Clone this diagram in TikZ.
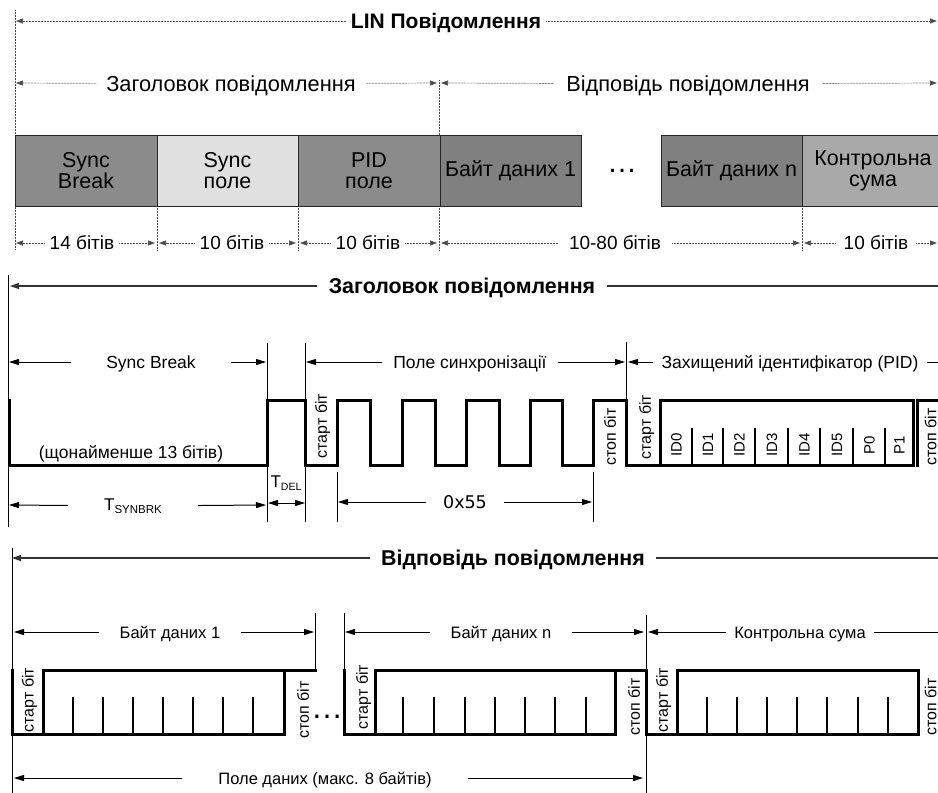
\documentclass[tikz,border=0pt]{standalone}
\usepackage{fontspec}
\setmainfont{Liberation Sans}
\newfontfamily\dvsans{DejaVu Sans}
\usetikzlibrary{arrows.meta}
\definecolor{gA}{HTML}{8B8B8B}
\definecolor{gB}{HTML}{E0E0E0}
\definecolor{gC}{HTML}{808080}
\definecolor{gD}{HTML}{A9A9A9}
\begin{document}
\begin{tikzpicture}[x=1pt,y=-1pt,
  guide/.style={draw=black!70, line width=0.7pt, dash pattern=on 0.7pt off 0.8pt},
  dotarr/.style={guide, -{Triangle[length=7pt,width=5pt]}},
  dimarr/.style={draw=black, line width=1pt, -{Triangle[length=10pt,width=6pt]}},
  dimboth/.style={draw=black, line width=1pt, {Triangle[length=10pt,width=6pt]}-{Triangle[length=10pt,width=6pt]}},
  dimline/.style={draw=black, line width=1pt},
  titleline/.style={draw=black!80, line width=1.3pt},
  titlearr/.style={titleline, -{Triangle[length=9pt,width=6pt]}},
  thinv/.style={draw=black, line width=1pt},
  wave/.style={draw=black, line width=3pt, line join=miter, line cap=rect},
  bittick/.style={draw=black, line width=2.6pt},
  fbox/.style={draw=black!85, line width=1pt, minimum height=71pt, inner sep=0pt, align=center, font=\fontsize{21.5}{21}\selectfont},
  t20/.style={inner ysep=0pt, text height=15.5pt, text depth=0pt, font=\fontsize{21.8}{25}\selectfont},
  t18/.style={inner ysep=0pt, text height=13.5pt, text depth=0pt, font=\fontsize{19}{22}\selectfont},
  blin/.style={inner ysep=0pt, text height=15pt, text depth=0pt, font=\bfseries\fontsize{21}{24}\selectfont},
  b19/.style={inner ysep=0pt, text height=15.3pt, text depth=0pt, font=\bfseries\fontsize{21.4}{24}\selectfont},
  t175/.style={inner ysep=0pt, text height=12.5pt, text depth=0pt, font=\fontsize{17.5}{21}\selectfont},
  t165/.style={inner ysep=0pt, text height=12pt, text depth=0pt, font=\fontsize{16.5}{20}\selectfont},
  rot/.style={rotate=90, inner sep=0pt, text height=11.5pt, text depth=0pt, font=\fontsize{16}{18}\selectfont},
  rotid/.style={rotate=90, inner sep=0pt, text height=11pt, text depth=0pt, font=\fontsize{15}{18}\selectfont},
]
\useasboundingbox (0,0) rectangle (938,793);

% ================= TOP SECTION =================
\draw[guide] (15,10) -- (15,250);
\draw[guide] (439,80) -- (439,250);
\draw[guide] (157,206) -- (157,250);
\draw[guide] (298,206) -- (298,250);
\draw[guide] (802,206) -- (802,250);

\coordinate (linL) at (16,21); \coordinate (linR) at (937,21);
\node[blin, inner xsep=5pt] (lin) at (446,21) {LIN Повідомлення};
\draw[dotarr] (lin) -- (linL);
\draw[dotarr] (lin) -- (linR);

\coordinate (h1L) at (16,83); \coordinate (h1R) at (437,83);
\coordinate (r1L) at (441,83); \coordinate (r1R) at (937,83);
\node[t20, inner xsep=10pt] (hdr1) at (231,84) {Заголовок повідомлення};
\node[t20, inner xsep=13pt] (rsp1) at (688,84) {Відповідь повідомлення};
\draw[dotarr] (hdr1) -- (h1L);
\draw[dotarr] (hdr1) -- (h1R);
\draw[dotarr] (rsp1) -- (r1L);
\draw[dotarr] (rsp1) -- (r1R);

\node[fbox, fill=gA, minimum width=142pt] (sb) at (86,170.5) {Sync\\Break};
\node[fbox, fill=gB, minimum width=141pt] (sp) at (227.5,170.5) {Sync\\поле};
\node[fbox, fill=gA, minimum width=142pt] (pf) at (369,170.5) {PID\\поле};
\node[fbox, fill=gC, minimum width=141pt] (d1) at (510.5,170.5) {Байт даних 1};
\node[inner sep=0pt, anchor=base, font=\fontsize{30}{30}\selectfont] (dots1) at (622,172) {…};
\node[fbox, fill=gC, minimum width=141pt] (dn) at (731.5,170.5) {Байт даних n};
\node[fbox, fill=gD, minimum width=142pt] (cs) at (873,170.5) {Контрольна\\сума};

\coordinate (a1) at (16,243);  \coordinate (a2) at (155,243);
\coordinate (a3) at (159,243); \coordinate (a4) at (296,243);
\coordinate (a5) at (300,243); \coordinate (a6) at (437,243);
\coordinate (a7) at (441,243); \coordinate (a8) at (800,243);
\coordinate (a9) at (804,243); \coordinate (a10) at (937,243);
\node[t18, inner xsep=5pt] (b14) at (82,243) {14 бітів};
\node[t18, inner xsep=5pt] (b10a) at (232,243) {10 бітів};
\node[t18, inner xsep=5pt] (b10b) at (368,243) {10 бітів};
\node[t18, inner xsep=11pt] (b1080) at (615,243) {10-80 бітів};
\node[t18, inner xsep=8pt] (b10c) at (876,243) {10 бітів};
\draw[dotarr] (b14) -- (a1);   \draw[dotarr] (b14) -- (a2);
\draw[dotarr] (b10a) -- (a3);  \draw[dotarr] (b10a) -- (a4);
\draw[dotarr] (b10b) -- (a5);  \draw[dotarr] (b10b) -- (a6);
\draw[dotarr] (b1080) -- (a7); \draw[dotarr] (b1080) -- (a8);
\draw[dotarr] (b10c) -- (a9);  \draw[dotarr] (b10c) -- (a10);

% ================= MIDDLE SECTION =================
\draw[thinv] (8,275) -- (8,527);
\draw[thinv] (267,343) -- (267,522);
\draw[thinv] (305,343) -- (305,522);
\draw[thinv] (626,342) -- (626,400);
\draw[thinv] (337,472) -- (337,522);
\draw[thinv] (593,472) -- (593,522);

\coordinate (m1L) at (10,286); \coordinate (m1R) at (938,286);
\node[b19, inner xsep=12pt] (hdr2) at (462,286) {Заголовок повідомлення};
\draw[titlearr] (hdr2) -- (m1L);
\draw[titleline] (hdr2) -- (m1R);

\coordinate (sbL) at (9,362);   \coordinate (sbR) at (266,362);
\coordinate (psL) at (306,362); \coordinate (psR) at (625,362);
\coordinate (piL) at (628,362); \coordinate (piR) at (938,362);
\node[t175, inner xsep=35pt] (sbk) at (151,362) {Sync Break};
\node[t175, inner xsep=11pt] (psync) at (470,362) {Поле синхронізації};
\node[t175, inner xsep=8pt] (pidl) at (790,362) {Захищений ідентифікатор (PID)};
\draw[dimarr] (sbk) -- (sbL);   \draw[dimarr] (sbk) -- (sbR);
\draw[dimarr] (psync) -- (psL); \draw[dimarr] (psync) -- (psR);
\draw[dimarr] (pidl) -- (piL);  \draw[dimline] (pidl) -- (piR);

\draw[wave] (9,400) -- (9,465) -- (267,465) -- (267,400) -- (305,400) -- (305,465)
  -- (337,465) -- (337,400) -- (370,400) -- (370,465) -- (402,465) -- (402,400)
  -- (435,400) -- (435,465) -- (466,465) -- (466,400) -- (499,400) -- (499,465)
  -- (530,465) -- (530,400) -- (562,400) -- (562,465) -- (593,465) -- (593,400)
  -- (626,400) -- (626,465) -- (660,465) -- (660,400) -- (913,400) -- (913,465) -- (660,465);
\draw[wave] (917,465) -- (917,400) -- (945,400);
\foreach \x in {692,723,755,788,820,853,885} \draw[bittick] (\x,428) -- (\x,465);

\node[t175, inner xsep=0pt] (least) at (131,452) {(щонайменше 13 бітів)};
\node[rot] (st1) at (321,426) {старт біт};
\node[rot] (sp1) at (610,437) {стоп біт};
\node[rot] (st2) at (645,427) {старт біт};
\node[rot] (sp2) at (930.5,437) {стоп біт};
\node[rotid] (id0) at (676,445) {ID0};
\node[rotid] (id1) at (707.5,445) {ID1};
\node[rotid] (id2) at (739,445) {ID2};
\node[rotid] (id3) at (771.5,445) {ID3};
\node[rotid] (id4) at (804,445) {ID4};
\node[rotid] (id5) at (836.5,445) {ID5};
\node[rotid] (p0) at (869,445) {P0};
\node[rotid] (p1) at (899,445) {P1};

\coordinate (tsL) at (9,505); \coordinate (tsR) at (266,505);
\node[inner ysep=0pt, text height=12pt, text depth=3pt, inner xsep=36pt, font=\fontsize{17}{20}\selectfont] (tsyn) at (133,506) {T\raisebox{-3pt}{\fontsize{11.5}{12}\selectfont SYNBRK}};
\draw[dimarr] (tsyn) -- (tsL); \draw[dimarr] (tsyn) -- (tsR);
\node[inner sep=0pt, font=\fontsize{17}{20}\selectfont] (tdel) at (286,483) {T\raisebox{-3pt}{\fontsize{10.5}{12}\selectfont DEL}};
\coordinate (tdL) at (268,503); \coordinate (tdR) at (305,503);
\draw[dimboth] (tdL) -- (tdR);

\coordinate (hxL) at (338,502); \coordinate (hxR) at (592,502);
\node[inner ysep=0pt, text height=12.5pt, text depth=0pt, inner xsep=17pt, font=\dvsans\fontsize{17.5}{20}\selectfont] (hex) at (465,502) {0x55};
\draw[dimarr] (hex) -- (hxL); \draw[dimarr] (hex) -- (hxR);

% ================= BOTTOM SECTION =================
\draw[thinv] (12,548) -- (12,793);
\draw[thinv] (315,613) -- (315,670);
\draw[thinv] (344,613) -- (344,670);
\draw[thinv] (646,615) -- (646,793);

\coordinate (m3L) at (12,558); \coordinate (m3R) at (938,558);
\node[b19, inner xsep=11pt] (hdr3) at (513,558) {Відповідь повідомлення};
\draw[titlearr] (hdr3) -- (m3L);
\draw[titleline] (hdr3) -- (m3R);

\coordinate (y1L) at (14,632);  \coordinate (y1R) at (314,632);
\coordinate (ynL) at (345,632); \coordinate (ynR) at (644,632);
\coordinate (csL) at (648,632); \coordinate (csR) at (938,632);
\node[t165, inner xsep=21pt] (by1) at (170,632) {Байт даних 1};
\node[t165, inner xsep=21pt] (byn) at (501,632) {Байт даних n};
\node[t165, inner xsep=8pt] (csl) at (800,632) {Контрольна сума};
\draw[dimarr] (by1) -- (y1L); \draw[dimarr] (by1) -- (y1R);
\draw[dimarr] (byn) -- (ynL); \draw[dimarr] (byn) -- (ynR);
\draw[dimarr] (csl) -- (csL); \draw[dimline] (csl) -- (csR);

\draw[wave] (12,670) -- (12,734) -- (284,734) -- (284,670);
\draw[wave] (43,734) -- (43,670) -- (315,670);
\foreach \x in {73,103,133,163,193,223,253} \draw[bittick] (\x,697) -- (\x,734);
\draw[wave] (344,670) -- (344,734) -- (615,734) -- (615,670);
\draw[wave] (375,734) -- (375,670) -- (646,670) -- (646,734) -- (918,734) -- (918,670);
\draw[wave] (677,734) -- (677,670) -- (918,670);
\foreach \x in {403,434,465,495,525,555,586} \draw[bittick] (\x,697) -- (\x,734);
\foreach \x in {707,737,767,797,827,858,888} \draw[bittick] (\x,697) -- (\x,734);

\node[rot] (st3) at (28,700) {старт біт};
\node[rot] (sp3) at (303,710) {стоп біт};
\node[rot] (st4) at (362,697) {старт біт};
\node[rot] (sp4) at (634,707) {стоп біт};
\node[rot] (st5) at (662,700) {старт біт};
\node[rot] (sp5) at (930.5,707) {стоп біт};
\node[inner sep=0pt, anchor=base, font=\fontsize{32}{32}\selectfont] (dots2) at (327,718) {…};

\coordinate (pdL) at (14,778); \coordinate (pdR) at (643,778);
\node[t165, inner xsep=36pt] (pdl) at (325,778) {Поле даних (макс. 8 байтів)};
\draw[dimarr] (pdl) -- (pdL); \draw[dimarr] (pdl) -- (pdR);
\end{tikzpicture}
\end{document}
